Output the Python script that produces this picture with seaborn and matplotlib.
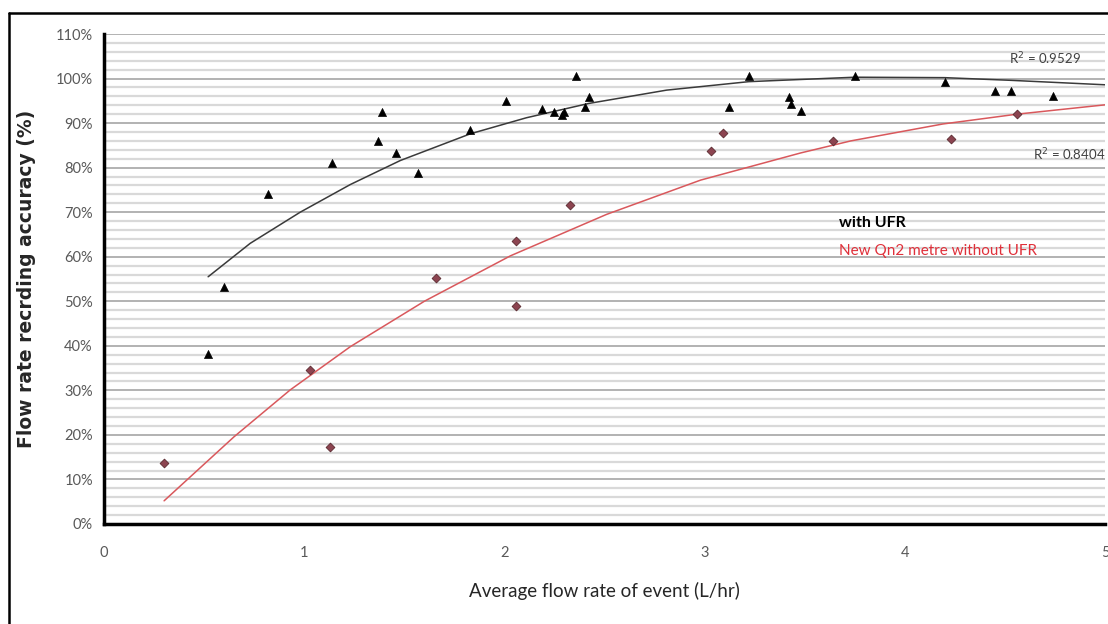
import numpy as np
import pandas as pd
import matplotlib
matplotlib.use('Agg')
import matplotlib.pyplot as plt
from matplotlib.lines import Line2D
from matplotlib.ticker import MultipleLocator, FuncFormatter
import seaborn as sns

# with UFR (black triangles)
ufr_x = [0.52, 0.60, 0.82, 1.14, 1.37, 1.39, 1.46, 1.57, 1.83, 2.01, 2.19, 2.25,
         2.29, 2.30, 2.36, 2.40, 2.42, 3.12, 3.22, 3.42, 3.43, 3.48, 3.75, 4.20,
         4.45, 4.53, 4.74]
ufr_y = [38.2, 53.2, 74.1, 81.0, 86.0, 92.5, 83.3, 78.8, 88.4, 95.0, 93.2, 92.5,
         91.8, 92.5, 100.6, 93.6, 95.9, 93.7, 100.6, 95.9, 94.3, 92.8, 100.6, 99.3,
         97.1, 97.3, 96.1]

# New Qn2 metre without UFR (red diamonds)
new_x = [0.30, 1.03, 1.13, 1.66, 2.06, 2.06, 2.33, 3.03, 3.09, 3.64, 4.23, 4.56]
new_y = [13.7, 34.6, 17.3, 55.2, 63.6, 49.0, 71.5, 83.8, 87.8, 86.0, 86.4, 92.0]

# trendlines
ufr_trend_x = [0.52, 0.73, 0.98, 1.23, 1.48, 1.83, 2.11, 2.42, 2.81, 3.22, 3.75, 4.20, 4.53, 5.00]
ufr_trend_y = [55.5, 63.0, 70.0, 76.2, 81.6, 87.6, 91.2, 94.4, 97.4, 99.3, 100.3, 100.2, 99.6, 98.6]
new_trend_x = [0.30, 0.65, 0.93, 1.23, 1.60, 2.03, 2.51, 2.98, 3.48, 3.73, 4.19, 4.56, 5.00]
new_trend_y = [5.2, 19.6, 30.1, 39.8, 50.0, 60.2, 69.5, 77.2, 83.3, 86.0, 89.8, 92.0, 94.1]

r2_labels = ['R$^2$ = 0.9529', 'R$^2$ = 0.8404']

sns.set_style('white')
plt.rcParams['font.family'] = ['Lato', 'DejaVu Sans']

fig = plt.figure(figsize=(11.08, 6.24), dpi=100)
ax = fig.add_axes([0.0939, 0.1603, 0.9034, 0.7852])

# grid lines, excel style
ax.yaxis.set_major_locator(MultipleLocator(10))
ax.yaxis.set_minor_locator(MultipleLocator(2))
ax.grid(which='minor', axis='y', color='#d9d9d9', lw=1.6)
ax.grid(which='major', axis='y', color='#a6a6a6', lw=1.2)
ax.set_axisbelow(True)

sns.lineplot(x=ufr_trend_x, y=ufr_trend_y, color='#3a3a3a', lw=1.1, ax=ax)
sns.lineplot(x=new_trend_x, y=new_trend_y, color='#d9585c', lw=1.1, ax=ax)

ufr = pd.DataFrame({'x': ufr_x, 'y': ufr_y})
new = pd.DataFrame({'x': new_x, 'y': new_y})
sns.scatterplot(data=ufr, x='x', y='y', marker='^', s=34, color='black',
                edgecolor='black', ax=ax, zorder=5)
sns.scatterplot(data=new, x='x', y='y', marker='D', s=20, color='#8c4450',
                edgecolor='#5a2a30', linewidth=0.6, ax=ax, zorder=5)

ax.set_xlim(0, 5)
ax.set_ylim(0, 110)
ax.set_xticks(range(0, 6))
ax.yaxis.set_major_formatter(FuncFormatter(lambda v, p: '%d%%' % v))
ax.tick_params(axis='both', length=0, labelsize=10.5, labelcolor='#595959')
ax.tick_params(axis='x', pad=16)
ax.tick_params(axis='y', pad=8)

for s in ['top', 'right']:
    ax.spines[s].set_visible(False)
for s in ['left', 'bottom']:
    ax.spines[s].set_color('black')
    ax.spines[s].set_linewidth(2.5)

ax.set_xlabel('Average flow rate of event (L/hr)', fontsize=13.5, labelpad=16)
ax.set_ylabel('Flow rate recrding accuracy (%)', fontsize=13.5, fontweight='bold',
              family='DejaVu Sans', labelpad=14)

ax.text(4.52, 104.5, r2_labels[0], fontsize=9.5, color='#404040', ha='left', va='center')
ax.text(4.64, 83.0, r2_labels[1], fontsize=9.5, color='#404040', ha='left', va='center')
ax.text(3.67, 67.5, 'with UFR', fontsize=11.5, fontweight='bold', color='black',
        ha='left', va='center')
ax.text(3.67, 61.3, 'New Qn2 metre without UFR', fontsize=11, color='#e0303a',
        ha='left', va='center')

# outer frame (top and left only visible)
fig.add_artist(Line2D([9 / 1108, 9 / 1108], [0, 1 - 13 / 624], color='black', lw=1.8))
fig.add_artist(Line2D([9 / 1108, 1], [1 - 13 / 624, 1 - 13 / 624], color='black', lw=1.8))

fig.savefig('out.png', dpi=100)
